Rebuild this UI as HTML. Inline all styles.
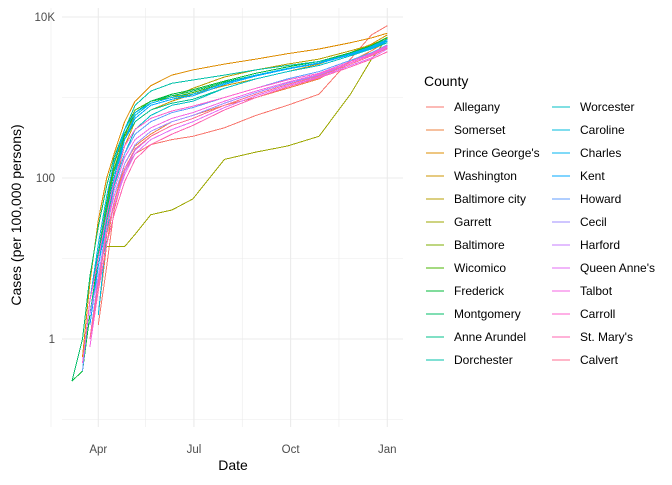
<!DOCTYPE html>
<html><head><meta charset="utf-8"><style>
body{margin:0;background:#fff;font-family:"Liberation Sans",sans-serif}
svg text{font-family:"Liberation Sans",sans-serif}
</style></head><body>
<svg id="chart" width="672" height="480" xmlns="http://www.w3.org/2000/svg">
<g id="grid"></g>
<g id="lines"></g>
<g id="axes"></g>
<text x="233" y="470" font-size="14" text-anchor="middle" fill="#000">Date</text>
<text transform="translate(21,215) rotate(-90)" font-size="14" text-anchor="middle" fill="#000">Cases (per 100,000 persons)</text>
<text x="424" y="86" font-size="14" fill="#000">County</text>
<g id="legend"></g>
</svg>
<script>
const days=[-25,-15,-8,0,8,15,25,35,50,70,90,120,150,180,210,240,260,275];
const counties=["Allegany","Somerset","Prince George's","Washington","Baltimore city","Garrett","Baltimore","Wicomico","Frederick","Montgomery","Anne Arundel","Dorchester","Worcester","Caroline","Charles","Kent","Howard","Cecil","Harford","Queen Anne's","Talbot","Carroll","St. Mary's","Calvert"];
const s0=[null,null,null,1.5,8,40,120,200,260,300,330,420,600,800,1100,3000,6000,7800];
const s1=[null,null,null,2,15,50,150,250,350,500,600,800,1000,1300,1700,2800,3800,5000];
const s2=[null,0.6,5,30,100,200,500,900,1400,1900,2200,2600,3000,3500,4000,4800,5500,6300];
const s3=[null,null,1,6,25,80,250,500,700,900,1100,1400,1700,2100,2600,3600,4600,6000];
const s4=[null,0.4,3,15,60,150,350,600,850,1000,1300,1800,2200,2600,3000,3800,4500,5500];
const s5=[null,null,null,null,14,14,14,20,35,40,55,170,210,250,330,1100,3000,5500];
const s6=[null,0.5,3,12,50,130,330,550,800,950,1100,1500,1900,2300,2700,3600,4400,5500];
const s7=[null,null,2,10,50,150,400,700,900,1000,1150,1500,1900,2300,2700,3500,4300,5300];
const s8=[0.3,0.4,2,10,40,120,350,650,900,1100,1250,1600,2000,2400,2800,3600,4400,5600];
const s9=[0.3,1,6,25,80,180,400,650,900,1050,1200,1550,1900,2300,2700,3500,4200,5200];
const s10=[null,0.5,3,12,45,120,300,500,700,850,950,1300,1700,2100,2500,3300,4100,5200];
const s11=[null,null,1,5,30,100,400,800,1200,1500,1650,1900,2200,2500,2800,3400,4000,4800];
const s12=[null,null,2,8,30,80,200,400,600,800,900,1300,1700,2100,2500,3300,4000,5000];
const s13=[null,null,null,2,20,80,300,600,850,1000,1100,1500,1900,2300,2700,3500,4300,5300];
const s14=[null,0.4,3,15,60,160,400,650,850,1000,1100,1500,1900,2300,2700,3500,4200,5200];
const s15=[null,null,1.5,8,35,100,300,550,800,950,1050,1450,1850,2250,2650,3400,4100,5000];
const s16=[null,0.4,3,10,35,90,200,350,500,650,750,1000,1300,1700,2100,2900,3600,4500];
const s17=[null,null,1,6,25,60,150,260,380,500,600,850,1150,1500,1900,2700,3400,4300];
const s18=[null,null,2,6,20,50,120,220,330,450,550,800,1100,1450,1850,2600,3300,4200];
const s19=[null,null,1,5,20,45,110,200,300,400,500,750,1050,1400,1800,2500,3100,4000];
const s20=[null,null,0.8,4,25,70,180,300,420,550,650,900,1200,1550,1950,2700,3400,4300];
const s21=[null,0.5,3,10,35,90,250,400,550,680,780,1000,1300,1650,2000,2800,3500,4400];
const s22=[null,null,1,4,15,35,90,170,260,350,450,700,1000,1350,1750,2400,3000,3700];
const s23=[null,null,1,5,20,50,130,230,330,450,550,800,1100,1450,1850,2600,3300,4100];
const series=[s0,s1,s2,s3,s4,s5,s6,s7,s8,s9,s10,s11,s12,s13,s14,s15,s16,s17,s18,s19,s20,s21,s22,s23];
const yMajor=[10000,100,1];const yMajorLabels=["10K","100","1"];
const yMinor=[1000,10,0.1];
const xMajor=[0,91,183,275];const xMajorLabels=["Apr","Jul","Oct","Jan"];
const xMinor=[-45,45,137,229];

const NS="http://www.w3.org/2000/svg";
const X=d=>98.3+d*(289/275);
const Y=v=>339-Math.log10(v)*80.5;
const PL=62,PR=403,PT=8,PB=427;
function hcl(h){const L=65,C=100,hr=h*Math.PI/180;const u=C*Math.cos(hr),v=C*Math.sin(hr);
const Xn=95.047,Yn=100,Zn=108.883;const d=Xn+15*Yn+3*Zn;const un=4*Xn/d,vn=9*Yn/d;
const Yv=Yn*Math.pow((L+16)/116,3);const up=u/(13*L)+un,vp=v/(13*L)+vn;
const Xv=Yv*9*up/(4*vp),Zv=Yv*(12-3*up-20*vp)/(4*vp);
const x=Xv/100,y=Yv/100,z=Zv/100;
let r=3.2406*x-1.5372*y-0.4986*z,g=-0.9689*x+1.8758*y+0.0415*z,b=0.0557*x-0.2040*y+1.0570*z;
const gm=c=>{c=Math.max(0,Math.min(1,c));return Math.round(255*(c<=0.0031308?12.92*c:1.055*Math.pow(c,1/2.4)-0.055));};
return `rgb(${gm(r)},${gm(g)},${gm(b)})`;}
function mk(tag,attrs,parent){const e=document.createElementNS(NS,tag);for(const k in attrs)e.setAttribute(k,attrs[k]);parent.appendChild(e);return e;}
const grid=document.getElementById('grid'),axes=document.getElementById('axes'),lines=document.getElementById('lines'),legend=document.getElementById('legend');
yMinor.forEach(v=>{const l=mk('line',{x1:PL,x2:PR,y1:Y(v),y2:Y(v),stroke:'#ebebeb','stroke-width':0.6},grid);

});
xMinor.forEach(d=>{const l=mk('line',{x1:X(d),x2:X(d),y1:PT,y2:PB,stroke:'#ebebeb','stroke-width':0.6},grid);

});
yMajor.forEach((v,i)=>{const l=mk('line',{x1:PL,x2:PR,y1:Y(v),y2:Y(v),stroke:'#ebebeb','stroke-width':1.1},grid);


const t=mk('text',{x:55,y:Y(v)+4,'font-size':11.5,'text-anchor':'end',fill:'#4d4d4d'},axes);t.textContent=yMajorLabels[i];

});
xMajor.forEach((d,i)=>{const l=mk('line',{x1:X(d),x2:X(d),y1:PT,y2:PB,stroke:'#ebebeb','stroke-width':1.1},grid);


const t=mk('text',{x:X(d),y:453,'font-size':11.5,'text-anchor':'middle',fill:'#4d4d4d'},axes);t.textContent=xMajorLabels[i];

});
series.forEach((s,i)=>{const col=hcl(15+i*15);let pts=[];
s.forEach((v,j)=>{if(v!=null)pts.push(X(days[j]).toFixed(1)+','+Y(v).toFixed(1));});
const p=mk('polyline',{points:pts.join(' '),fill:'none',stroke:col,'stroke-width':1,'shape-rendering':'crispEdges'},lines);


const c=i<12?0:1,r=i%12;const lx=c?552:426,ly=107+r*23;
const g=mk('g',{},legend);


mk('line',{x1:lx,x2:lx+18,y1:ly,y2:ly,stroke:col,'stroke-width':1,'shape-rendering':'crispEdges'},g);
const t=mk('text',{x:lx+28,y:ly+4,'font-size':12,fill:'#000'},g);t.textContent=counties[i];});
</script>
</body></html>
